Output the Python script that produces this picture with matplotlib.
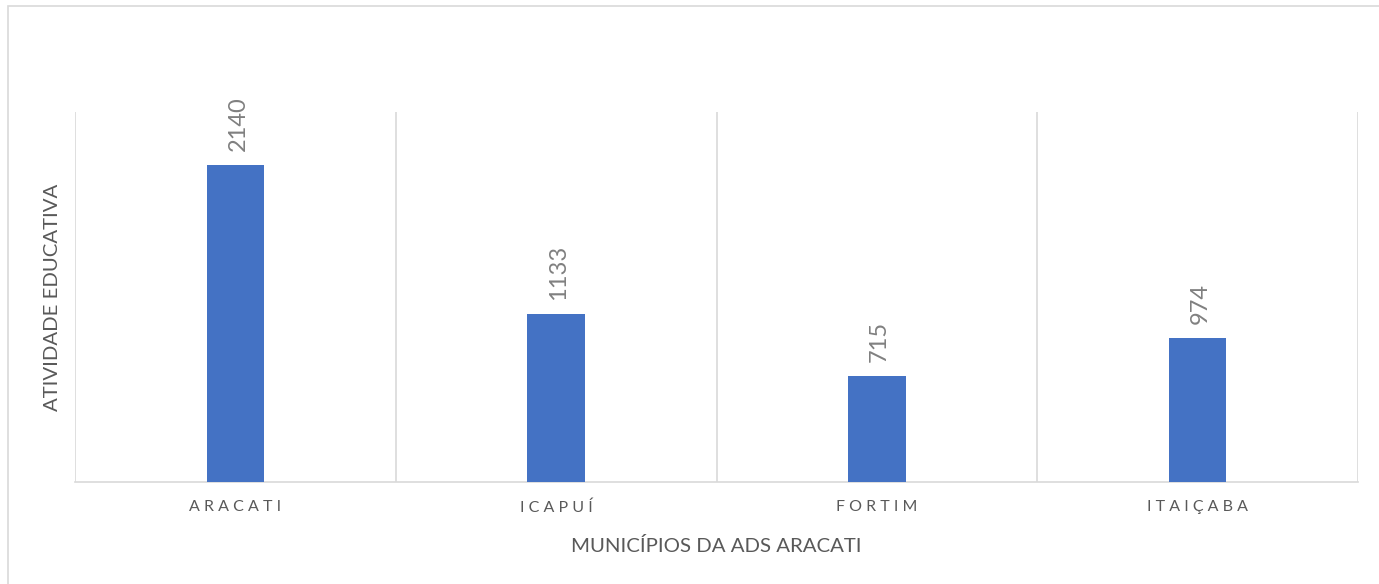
import matplotlib
matplotlib.use("Agg")
import matplotlib.pyplot as plt
from matplotlib.patches import Rectangle

categories = ["ARACATI", "ICAPUÍ", "FORTIM", "ITAIÇABA"]
values = [2140, 1133, 715, 974]
x_label = "MUNICÍPIOS DA ADS ARACATI"
y_label = "ATIVIDADE EDUCATIVA"

plt.rcParams['font.family'] = ['Lato', 'DejaVu Sans']
grey_text = "#595959"
grid_col = "#d9d9d9"
bar_col = "#4472c4"

fig = plt.figure(figsize=(13.79, 5.84), dpi=100)
ax = fig.add_axes([75/1379, 1-482/584, (1358-75)/1379, (482-112)/584])

# outer chart border
fig.patches.append(Rectangle((8/1379, -0.01), 1.1, 1-6/584+0.01, transform=fig.transFigure,
                             fill=False, edgecolor=grid_col, linewidth=1.2))

xs = list(range(len(categories)))
bars = ax.bar(xs, values, width=0.18, color=bar_col, zorder=3)
ax.set_xlim(-0.5, len(categories) - 0.5)
ax.set_ylim(0, 2500)

for b, v in zip(bars, values):
    ax.annotate(str(v), (b.get_x() + b.get_width() / 2, v), xytext=(2, 10),
                textcoords="offset points", rotation=90, ha="center", va="bottom",
                fontsize=17, color="#808080")

# vertical gridlines at category boundaries
for xb in [i - 0.5 for i in range(len(categories) + 1)]:
    ax.axvline(xb, color=grid_col, linewidth=1.2, zorder=1)

for s in ["top", "right", "left"]:
    ax.spines[s].set_visible(False)
ax.spines["bottom"].set_color(grid_col)
ax.spines["bottom"].set_linewidth(1.2)
ax.set_yticks([])
ax.set_xticks(xs)
ax.set_xticklabels([" ".join(c) for c in categories], fontsize=11.5, color=grey_text)
ax.tick_params(axis="x", length=0, pad=13)
ax.set_xlabel(x_label, fontsize=14.7, color=grey_text, labelpad=16)
ax.set_ylabel(y_label, fontsize=14.7, color=grey_text, labelpad=10)

fig.savefig("out.png", dpi=100)
